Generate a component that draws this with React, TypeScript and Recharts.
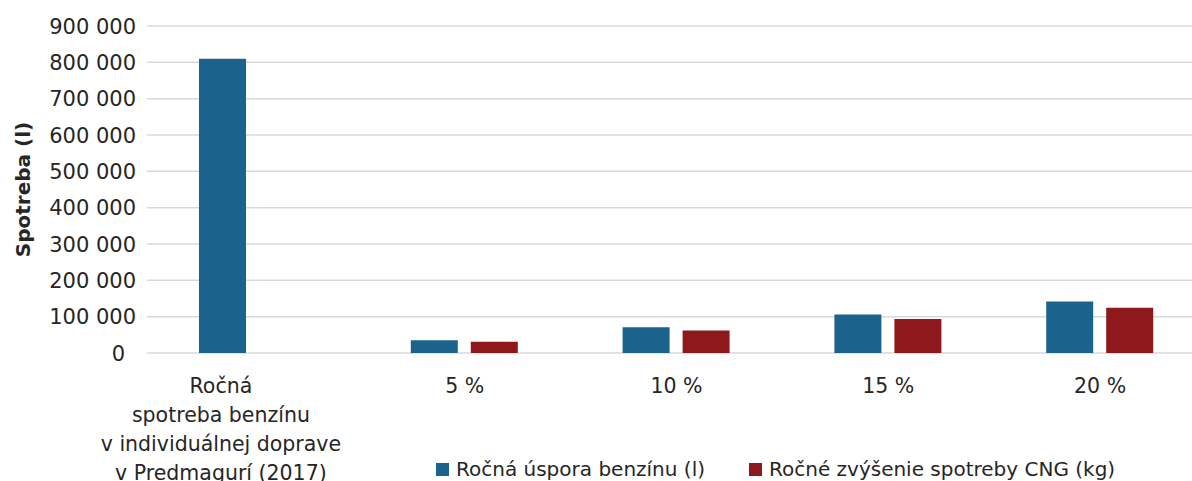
import React from 'react';
import { BarChart, Bar, XAxis, YAxis, CartesianGrid, Legend } from 'recharts';

const categories = ['Ročná\nspotreba benzínu\nv individuálnej doprave\nv Predmagurí (2017)', '5 %', '10 %', '15 %', '20 %'];
const savingPetrol = [810000, 35000, 70800, 106000, 141700];
const cngIncrease = [0, 31000, 62000, 93300, 124500];
const yTicks = [0, 100000, 200000, 300000, 400000, 500000, 600000, 700000, 800000, 900000];
const seriesNames = ['Ročná úspora benzínu (l)', 'Ročné zvýšenie spotreby CNG (kg)'];

const BLUE = '#1B628C';
const RED = '#8E181C';
const TEXT = '#262626';
const FONT = '"DejaVu Sans", sans-serif';

const data = categories.map((c, i) => ({
  name: c,
  a: savingPetrol[i],
  b: cngIncrease[i] === 0 ? null : cngIncrease[i],
}));

const fmt = (v: number) => {
  const s = String(v);
  return s.replace(/\B(?=(\d{3})+(?!\d))/g, ' ');
};

const YTick = (props: any) => {
  const { x, y, payload } = props;
  const v = payload.value as number;
  return (
    <text x={x - (v === 0 ? 11 : 0)} y={y} dy={7.5} textAnchor="end" fill={TEXT} fontSize={21} fontFamily={FONT}>
      {fmt(v)}
    </text>
  );
};

const XTick = (props: any) => {
  const { x, y, payload, index } = props;
  const lines = String(payload.value).split('\n');
  const dx = index === 0 ? -32 : 0;
  return (
    <text x={x + dx} y={y} textAnchor="middle" fill={TEXT} fontSize={20.5} fontFamily={FONT}>
      {lines.map((l, i) => (
        <tspan key={i} x={x + dx} dy={i === 0 ? 30 : 29}>
          {l}
        </tspan>
      ))}
    </text>
  );
};

const LegendContent = () => (
  <div style={{ display: 'flex', height: 24, alignItems: 'center', fontFamily: FONT, fontSize: 20, color: TEXT, whiteSpace: 'nowrap' }}>
    <span style={{ width: 13, height: 13, background: BLUE, display: 'inline-block', marginLeft: 436, marginRight: 7 }} />
    <span>{seriesNames[0]}</span>
    <span style={{ width: 13, height: 13, background: RED, display: 'inline-block', marginLeft: 44, marginRight: 7 }} />
    <span>{seriesNames[1]}</span>
  </div>
);

const YLabel = (props: any) => {
  const vb = props.viewBox || {};
  const cy = (vb.y ?? 0) + (vb.height ?? 0) / 2;
  return (
    <text x={23} y={cy} transform={`rotate(-90 23 ${cy})`} textAnchor="middle" dominantBaseline="central" fill={TEXT} fontSize={20} fontWeight="bold" fontFamily={FONT}>
      Spotreba (l)
    </text>
  );
};

export default function App() {
  return (
    <div style={{ position: 'absolute', left: 0, top: 0, width: 1192, height: 481, overflow: 'hidden', background: '#fff' }}>
      <BarChart width={1206} height={481} data={data} margin={{ top: 26, right: 0, bottom: 0, left: 0 }} barSize={47} barGap={13}>
        <CartesianGrid vertical={false} stroke="#d9d9d9" strokeWidth={1.5} />
        <XAxis dataKey="name" axisLine={false} tickLine={false} tick={<XTick />} interval={0} height={104} tickSize={0} tickMargin={10} />
        <YAxis domain={[0, 900000]} ticks={yTicks} axisLine={false} tickLine={false} tickSize={0} tickMargin={11} width={147} tick={<YTick />} label={<YLabel />} />
        <Legend verticalAlign="bottom" content={<LegendContent />} wrapperStyle={{ left: 0, width: 1192, height: 24 }} />
        <Bar dataKey="a" name={seriesNames[0]} fill={BLUE} isAnimationActive={false} />
        <Bar dataKey="b" name={seriesNames[1]} fill={RED} isAnimationActive={false} />
      </BarChart>
    </div>
  );
}
